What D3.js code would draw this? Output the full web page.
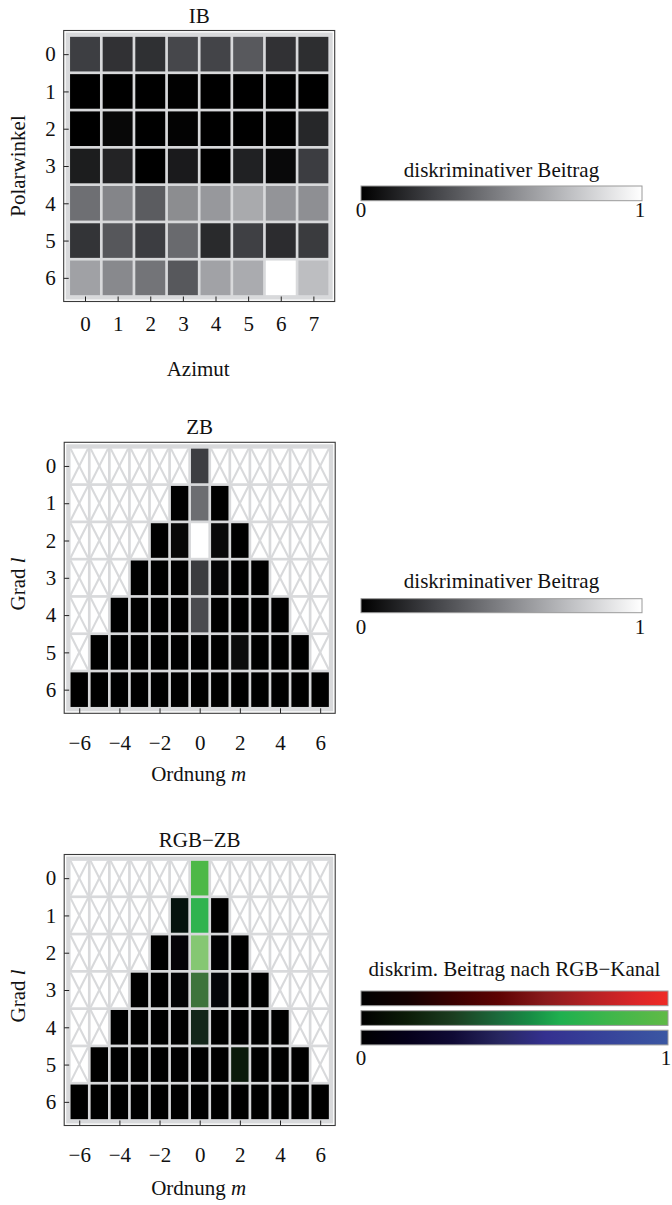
<!DOCTYPE html>
<html>
<head>
<meta charset="utf-8">
<script src="https://cdn.jsdelivr.net/npm/d3@7"></script>
<style>
  body { margin: 0; background: #fff; }
  text { font-family: "Liberation Serif", "Times New Roman", serif; font-size: 21px; fill: #111; }
</style>
</head>
<body>
<svg id="chart"></svg>
<script>
// ---- data -------------------------------------------------------------
const ibAzimut = [0, 1, 2, 3, 4, 5, 6, 7];
const ibPolar = [0, 1, 2, 3, 4, 5, 6];
// discriminative contribution per (polar angle, azimuth) bin
const ibValues = [
  [0.24, 0.19, 0.185, 0.275, 0.26, 0.345, 0.19, 0.175],
  [0.0, 0.0, 0.0, 0.005, 0.0, 0.0, 0.0, 0.0],
  [0.0, 0.03, 0.0, 0.01, 0.0, 0.0, 0.005, 0.15],
  [0.11, 0.135, 0.0, 0.1, 0.0, 0.125, 0.035, 0.235],
  [0.43, 0.515, 0.355, 0.545, 0.59, 0.66, 0.575, 0.555],
  [0.2, 0.335, 0.235, 0.41, 0.16, 0.245, 0.17, 0.225],
  [0.625, 0.53, 0.45, 0.34, 0.63, 0.665, 1.0, 0.74]
];

const zbDegrees = [0, 1, 2, 3, 4, 5, 6];
const zbOrders = [-6, -5, -4, -3, -2, -1, 0, 1, 2, 3, 4, 5, 6];
const zbOrderTicks = [-6, -4, -2, 0, 2, 4, 6];
// one row per degree l, entries for m = -l..l
const zbValues = [
  [0.24],
  [0.0, 0.42, 0.0],
  [0.0, 0.03, 1.0, 0.035, 0.0],
  [0.0, 0.0, 0.0, 0.23, 0.02, 0.0, 0.0],
  [0.0, 0.0, 0.0, 0.0, 0.29, 0.0, 0.0, 0.0, 0.0],
  [0.0, 0.0, 0.0, 0.0, 0.0, 0.0, 0.0, 0.045, 0.0, 0.0, 0.0],
  [0.0, 0.0, 0.0, 0.0, 0.0, 0.0, 0.0, 0.0, 0.0, 0.0, 0.0, 0.0, 0.0]
];

// per-channel contributions for the colour Zernike descriptor
const rgbRed = [
  [0.30],
  [0.02, 0.19, 0.0],
  [0.0, 0.02, 0.52, 0.005, 0.0],
  [0.0, 0.0, 0.01, 0.24, 0.02, 0.0, 0.0],
  [0.0, 0.0, 0.0, 0.0, 0.075, 0.0, 0.0, 0.0, 0.0],
  [0.0, 0.0, 0.0, 0.0, 0.0, 0.0, 0.0, 0.045, 0.0, 0.0, 0.0],
  [0.0, 0.0, 0.0, 0.0, 0.0, 0.0, 0.0, 0.0, 0.0, 0.0, 0.0, 0.0, 0.0]
];
const rgbGreen = [
  [0.72],
  [0.07, 0.70, 0.0],
  [0.0, 0.01, 0.78, 0.005, 0.0],
  [0.0, 0.0, 0.01, 0.45, 0.02, 0.0, 0.0],
  [0.0, 0.0, 0.0, 0.0, 0.15, 0.0, 0.0, 0.0, 0.0],
  [0.0, 0.0, 0.0, 0.0, 0.0, 0.0, 0.0, 0.10, 0.0, 0.0, 0.0],
  [0.0, 0.0, 0.0, 0.0, 0.0, 0.0, 0.0, 0.0, 0.0, 0.0, 0.0, 0.0, 0.0]
];
const rgbBlue = [
  [0.28],
  [0.05, 0.31, 0.0],
  [0.0, 0.03, 0.45, 0.012, 0.0],
  [0.0, 0.0, 0.02, 0.23, 0.035, 0.0, 0.0],
  [0.0, 0.0, 0.0, 0.0, 0.10, 0.0, 0.0, 0.0, 0.0],
  [0.0, 0.0, 0.0, 0.0, 0.0, 0.0, 0.0, 0.045, 0.0, 0.0, 0.0],
  [0.0, 0.0, 0.0, 0.0, 0.0, 0.0, 0.0, 0.0, 0.0, 0.0, 0.0, 0.0, 0.0]
];

// colour ramps (position, colour)
const grayStops = [[0, "#000000"], [0.25, "#404145"], [0.5, "#808185"], [0.75, "#c0c1c4"], [1, "#ffffff"]];
const redStops = [[0, "#000000"], [0.15, "#140000"], [0.3, "#3a0000"], [0.45, "#5e0303"], [0.6, "#8a1a1c"], [0.75, "#b52124"], [0.9, "#dc2628"], [1, "#ef2b25"]];
const greenStops = [[0, "#000000"], [0.15, "#0c1c08"], [0.3, "#1b3d20"], [0.45, "#1b6b3c"], [0.55, "#178c45"], [0.65, "#1fb04f"], [0.8, "#3db64b"], [1, "#60ba46"]];
const blueStops = [[0, "#000000"], [0.15, "#05001a"], [0.3, "#100a35"], [0.45, "#27265f"], [0.6, "#34308f"], [0.75, "#363f98"], [1, "#3b57a3"]];
const barTicks = [0, 1];

// ---- drawing ----------------------------------------------------------
const W = 672, H = 1205;
const svg = d3.select("#chart").attr("width", W).attr("height", H)
  .style("display", "block").style("background", "#fff");
const defs = svg.append("defs");

const grayScale = d3.scaleLinear()
  .domain(grayStops.map(d => d[0]))
  .range(grayStops.map(d => d[1]))
  .interpolate(d3.interpolateRgb)
  .clamp(true);
const channel = d3.scaleLinear().domain([0, 1]).range([0, 255]).clamp(true);

const MESH = "#d8d9db";
const DATA_SIZE = 261, PAD = 5, GAP = 1.35;

function drawPanel(p) {
  const g = svg.append("g");
  const x = d3.scaleLinear()
    .domain([d3.min(p.cols) - 0.5, d3.max(p.cols) + 0.5])
    .range([p.left, p.left + DATA_SIZE]);
  const y = d3.scaleLinear()
    .domain([d3.min(p.rows) - 0.5, d3.max(p.rows) + 0.5])
    .range([p.top, p.top + DATA_SIZE]);
  const [x0, x1] = x.range(), [y0, y1] = y.range();

  // mesh background
  g.append("rect")
    .attr("x", x0 - 3).attr("y", y0 - 3)
    .attr("width", x1 - x0 + 6).attr("height", y1 - y0 + 6)
    .attr("fill", MESH);

  const cells = [];
  p.rows.forEach(r => p.cols.forEach(c => cells.push({ r, c, color: p.cellColor(r, c) })));

  const cg = g.append("g");
  cg.selectAll("rect.cell").data(cells).join("rect")
    .attr("class", "cell")
    .attr("x", d => x(d.c - 0.5) + GAP)
    .attr("y", d => y(d.r - 0.5) + GAP)
    .attr("width", d => x(d.c + 0.5) - x(d.c - 0.5) - 2 * GAP)
    .attr("height", d => y(d.r + 0.5) - y(d.r - 0.5) - 2 * GAP)
    .attr("fill", d => d.color || "#ffffff");

  // crossed-out cells where no coefficient exists
  const empty = cells.filter(d => !d.color);
  const diag = [];
  empty.forEach(d => {
    const ax = x(d.c - 0.5) + GAP, bx = x(d.c + 0.5) - GAP;
    const ay = y(d.r - 0.5) + GAP, by = y(d.r + 0.5) - GAP;
    diag.push([ax, ay, bx, by], [bx, ay, ax, by]);
  });
  cg.selectAll("line.cross").data(diag).join("line")
    .attr("class", "cross")
    .attr("x1", d => d[0]).attr("y1", d => d[1])
    .attr("x2", d => d[2]).attr("y2", d => d[3])
    .attr("stroke", MESH).attr("stroke-width", 2.1);

  // frame
  const fx0 = x0 - PAD, fx1 = x1 + PAD, fy0 = y0 - PAD, fy1 = y1 + PAD;
  g.append("rect")
    .attr("x", fx0).attr("y", fy0)
    .attr("width", fx1 - fx0).attr("height", fy1 - fy0)
    .attr("fill", "none").attr("stroke", "#3a3a3a").attr("stroke-width", 1.1);

  // axes with inward ticks
  const xAxis = g.append("g").attr("transform", `translate(0,${fy1})`)
    .call(d3.axisBottom(x).tickValues(p.xTicks).tickSizeInner(-5).tickSizeOuter(0)
      .tickPadding(p.xTickPad).tickFormat(d3.format("d")));
  const yAxis = g.append("g").attr("transform", `translate(${fx0},0)`)
    .call(d3.axisLeft(y).tickValues(p.rows).tickSizeInner(-5).tickSizeOuter(0)
      .tickPadding(8).tickFormat(d3.format("d")));
  [xAxis, yAxis].forEach(a => {
    a.select(".domain").remove();
    a.selectAll(".tick line").attr("stroke", "#222");
    a.selectAll(".tick text").attr("fill", "#111");
    a.attr("font-family", null).attr("font-size", null);
  });

  // title
  g.append("text").attr("x", (fx0 + fx1) / 2).attr("y", fy0 - 8)
    .attr("text-anchor", "middle").text(p.title);

  // x label
  const xl = g.append("text").attr("x", (fx0 + fx1) / 2 - 1).attr("y", fy1 + p.xLabelOffset)
    .attr("text-anchor", "middle");
  p.xLabel.forEach(([t, it]) => xl.append("tspan").attr("font-style", it ? "italic" : null).text(t));

  // y label
  const yl = g.append("text")
    .attr("transform", `translate(25,${p.yLabelCenter}) rotate(-90)`)
    .attr("text-anchor", "middle");
  p.yLabel.forEach(([t, it]) => yl.append("tspan").attr("font-style", it ? "italic" : null).text(t));
}

function drawColorBar(cb) {
  const x = d3.scaleLinear().domain([0, 1]).range([cb.x0, cb.x1]);
  svg.append("text").attr("x", (cb.x0 + cb.x1) / 2).attr("y", cb.titleY)
    .attr("text-anchor", "middle").text(cb.title);
  cb.bars.forEach((stops, i) => {
    const id = `${cb.id}-${i}`;
    const grad = defs.append("linearGradient").attr("id", id)
      .attr("x1", "0%").attr("x2", "100%").attr("y1", "0%").attr("y2", "0%");
    grad.selectAll("stop").data(stops).join("stop")
      .attr("offset", d => `${d[0] * 100}%`).attr("stop-color", d => d[1]);
    svg.append("rect")
      .attr("x", x(0)).attr("y", cb.barTops[i])
      .attr("width", x(1) - x(0)).attr("height", cb.barH)
      .attr("fill", `url(#${id})`)
      .attr("stroke", "#9a9a9a").attr("stroke-width", 1);
  });
  svg.selectAll(null).data(barTicks).join("text")
    .attr("x", d => x(d) + (d === 1 ? -2 : 0))
    .attr("y", cb.labelY)
    .attr("text-anchor", "middle")
    .text(d => d3.format("d")(d));
}

// IB: intensity histogram
drawPanel({
  top: 35.5, left: 68.7,
  cols: ibAzimut, rows: ibPolar, xTicks: ibAzimut,
  cellColor: (r, c) => grayScale(ibValues[r][c]),
  title: "IB",
  xLabel: [["Azimut", false]], yLabel: [["Polarwinkel", false]],
  xTickPad: 15, xLabelOffset: 74, yLabelCenter: 166
});

// ZB: Zernike descriptor
drawPanel({
  top: 447.3, left: 69.2,
  cols: zbOrders, rows: zbDegrees, xTicks: zbOrderTicks,
  cellColor: (l, m) => Math.abs(m) <= l ? grayScale(zbValues[l][m + l]) : null,
  title: "ZB",
  xLabel: [["Ordnung ", false], ["m", true]], yLabel: [["Grad ", false], ["l", true]],
  xTickPad: 22, xLabelOffset: 68, yLabelCenter: 584
});

// RGB-ZB: colour Zernike descriptor
drawPanel({
  top: 859.5, left: 69.2,
  cols: zbOrders, rows: zbDegrees, xTicks: zbOrderTicks,
  cellColor: (l, m) => Math.abs(m) <= l
    ? d3.rgb(channel(rgbRed[l][m + l]), channel(rgbGreen[l][m + l]), channel(rgbBlue[l][m + l])).formatHex()
    : null,
  title: "RGB\u2212ZB",
  xLabel: [["Ordnung ", false], ["m", true]], yLabel: [["Grad ", false], ["l", true]],
  xTickPad: 22, xLabelOffset: 69, yLabelCenter: 996
});

drawColorBar({
  id: "cb-ib", title: "diskriminativer Beitrag", x0: 361, x1: 642,
  titleY: 176.5, bars: [grayStops], barTops: [186], barH: 14.7, labelY: 216.7
});
drawColorBar({
  id: "cb-zb", title: "diskriminativer Beitrag", x0: 361, x1: 642,
  titleY: 587.5, bars: [grayStops], barTops: [598.7], barH: 14, labelY: 633.5
});
drawColorBar({
  id: "cb-rgb", title: "diskrim. Beitrag nach RGB\u2212Kanal", x0: 361, x1: 668,
  titleY: 975.5, bars: [redStops, greenStops, blueStops], barTops: [991, 1010.7, 1030.2],
  barH: 14.7, labelY: 1065
});
</script>
</body>
</html>
